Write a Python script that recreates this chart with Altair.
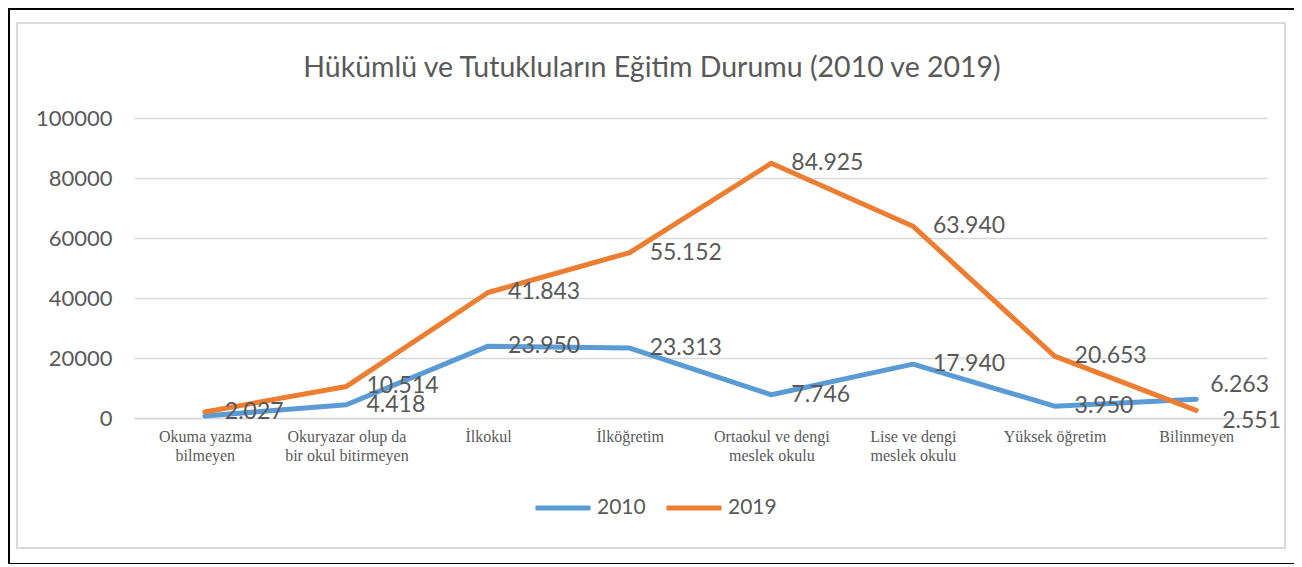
import altair as alt
import pandas as pd

title_text = "Hükümlü ve Tutukluların Eğitim Durumu (2010 ve 2019)"
categories = [
    "Okuma yazma\nbilmeyen",
    "Okuryazar olup da\nbir okul bitirmeyen",
    "İlkokul",
    "İlköğretim",
    "Ortaokul ve dengi\nmeslek okulu",
    "Lise ve dengi\nmeslek okulu",
    "Yüksek öğretim",
    "Bilinmeyen",
]
values_2010 = [700, 4418, 23950, 23313, 7746, 17940, 3950, 6263]
values_2019 = [2027, 10514, 41843, 55152, 84925, 63940, 20653, 2551]
show_label_2010 = [False, True, True, True, True, True, True, True]
show_label_2019 = [True, True, True, True, True, True, True, True]
y_ticks = [0, 20000, 40000, 60000, 80000, 100000]


def tr_fmt(v):
    return f"{v:,}".replace(",", ".")


rows = []
for i, c in enumerate(categories):
    rows.append({"cat": c, "year": "2010", "value": values_2010[i],
                 "label": tr_fmt(values_2010[i]) if show_label_2010[i] else "",
                 "last": i == len(categories) - 1})
    rows.append({"cat": c, "year": "2019", "value": values_2019[i],
                 "label": tr_fmt(values_2019[i]) if show_label_2019[i] else "",
                 "last": i == len(categories) - 1})
df = pd.DataFrame(rows)

W, H = 1133, 300
FONT = "Lato"
GREY = "#595959"

x_enc = alt.X("cat:N", sort=categories, scale=alt.Scale(type="point", padding=0.5),
              axis=alt.Axis(title=None, labelAngle=0, labelFont="Liberation Serif",
                            labelFontSize=16, labelColor=GREY, ticks=False, grid=False,
                            domain=True, domainColor="#d9d9d9", domainWidth=1.5,
                            labelPadding=10, labelLineHeight=19,
                            labelExpr="split(datum.label, '\\n')"))
y_enc = alt.Y("value:Q", scale=alt.Scale(domain=[0, 100000], nice=False),
              axis=alt.Axis(title=None, values=y_ticks, format="d", labelFont=FONT,
                            labelFontSize=22, labelColor=GREY, ticks=False, domain=False,
                            grid=True, gridColor="#d9d9d9", gridWidth=1.3,
                            labelPadding=22))
color_enc = alt.Color("year:N", scale=alt.Scale(domain=["2010", "2019"],
                                                range=["#5B9BD5", "#ED7D31"]),
                      legend=alt.Legend(title=None, orient="none", direction="horizontal",
                                        legendX=399, legendY=360, symbolType="stroke",
                                        symbolSize=3025, symbolStrokeWidth=5,
                                        labelFont=FONT, labelFontSize=21, labelColor=GREY,
                                        labelOffset=4, columnPadding=10))

one = pd.DataFrame({"t": [title_text]})

frame = alt.Chart(one).mark_rect(
    fill=None, stroke="black", strokeWidth=2
).encode(x=alt.value(-125), x2=alt.value(1162), y=alt.value(-109), y2=alt.value(446))

area = alt.Chart(one).mark_rect(
    fill=None, stroke="#d9d9d9", strokeWidth=2
).encode(x=alt.value(-117), x2=alt.value(1151), y=alt.value(-95), y2=alt.value(430))

title = alt.Chart(one).mark_text(
    align="center", baseline="middle", font=FONT, fontSize=28.5, color=GREY
).encode(x=alt.value(518), y=alt.value(-50), text="t:N")

base = alt.Chart(df)

lines = base.mark_line(strokeWidth=5, strokeCap="round", strokeJoin="round").encode(
    x=x_enc, y=y_enc, color=color_enc, detail="year:N")

labels = base.transform_filter("!datum.last").mark_text(
    align="left", baseline="middle", dx=20, font=FONT, fontSize=23, color=GREY
).encode(x=alt.X("cat:N", sort=categories), y="value:Q", text="label:N")

last_2010 = base.transform_filter("datum.last && datum.year == '2010'").mark_text(
    align="left", baseline="middle", dx=14, dy=-14, font=FONT, fontSize=23, color=GREY
).encode(x=alt.X("cat:N", sort=categories), y="value:Q", text="label:N")

last_2019 = base.transform_filter("datum.last && datum.year == '2019'").mark_text(
    align="left", baseline="middle", dx=26, dy=11, font=FONT, fontSize=23, color=GREY
).encode(x=alt.X("cat:N", sort=categories), y="value:Q", text="label:N")

chart = alt.layer(frame, area, title, lines, labels, last_2010, last_2019).properties(
    width=W, height=H,
    autosize=alt.AutoSizeParams(type="none"),
    padding={"left": 126, "top": 110, "right": 27, "bottom": 146},
).configure(background="white").configure_view(stroke=None)

chart.save("out.html", embed_options={"renderer": "svg", "actions": False})
